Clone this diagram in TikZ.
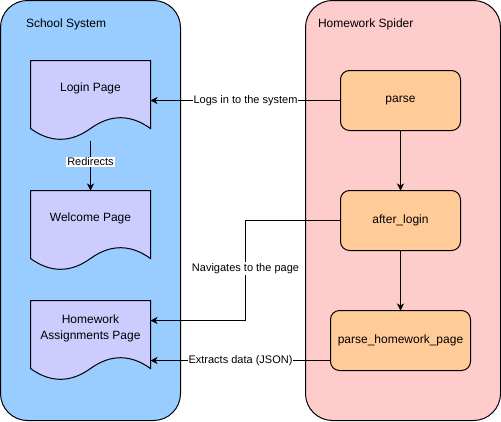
\documentclass[tikz,border=0pt]{standalone}
\usepackage{fontspec}
\setmainfont{Liberation Sans}
\usetikzlibrary{arrows.meta,calc}
\definecolor{sysblue}{HTML}{99CCFF}
\definecolor{spiderpink}{HTML}{FFCCCC}
\definecolor{docpurple}{HTML}{CCCCFF}
\definecolor{procorange}{HTML}{FFCC99}
\newcommand\mydocshape[1]{%
  \begin{scope}[shift={(#1.north west)}]
    \filldraw[draw=black, fill=docpurple] (0,0) -- (120,0) -- (120,68)
      .. controls (100,53.6) and (80,53.6) .. (60,68)
      .. controls (40,82.4) and (20,82.4) .. (0,68) -- cycle;
  \end{scope}}
\begin{document}
\begin{tikzpicture}[x=1pt,y=-1pt,line width=1pt,
  container/.style={draw=black, rounded corners=27pt, minimum height=420pt, inner sep=0pt, outer sep=0pt},
  ctitle/.style={anchor=west, inner sep=0pt, font=\fontsize{12}{14}\selectfont},
  docbox/.style={draw=none, minimum width=120pt, minimum height=80pt, inner sep=0pt, outer sep=0pt},
  doctext/.style={inner sep=0pt, align=center, font=\fontsize{12}{15.5}\selectfont},
  proc/.style={draw=black, fill=procorange, rounded corners=9pt, minimum height=60pt, inner sep=0pt, outer sep=0pt, font=\fontsize{12}{14}\selectfont},
  arr/.style={-{Stealth[length=7pt,width=7pt,inset=2pt]}},
  lbl/.style={fill=white, inner sep=1pt, font=\fontsize{11}{13}\selectfont}]
\useasboundingbox (0,0) rectangle (501,421);
% containers
\node[container, fill=sysblue, minimum width=180pt] (school) at (90.5,210.5) {};
\node[container, fill=spiderpink, minimum width=195pt] (spider) at (403,210.5) {};
\node[ctitle] (schooltitle) at (25.5,24.5) {School System};
\node[ctitle] (spidertitle) at (317.5,24.5) {Homework Spider};
% document pages
\node[docbox] (login) at (90.5,100.5) {};
\node[docbox] (welcome) at (90.5,230.5) {};
\node[docbox] (hw) at (90.5,340.5) {};
\mydocshape{login}
\mydocshape{welcome}
\mydocshape{hw}
\node[doctext] (logintxt) at ([yshift=-28pt]login.north) {Login Page};
\node[doctext] (welcometxt) at ([yshift=-28pt]welcome.north) {Welcome Page};
\node[doctext] (hwtxt) at ([yshift=-28pt]hw.north) {Homework\\Assignments Page};
% spider functions
\node[proc, minimum width=120pt] (parse) at (400.5,100.5) {parse};
\node[proc, minimum width=120pt] (afterlogin) at (400.5,220.5) {after\_login};
\node[proc, minimum width=140pt] (phw) at (400.5,340.5) {parse\_homework\_page};
% connectors
\coordinate (hwin1) at ([yshift=20pt]hw.east);
\coordinate (hwin2) at ([yshift=-20pt]hw.east);
\coordinate (navmid) at ($(hwin1)!.5!(afterlogin.west)$);
\draw[arr] (parse.west) -- node[lbl] (lbllogs) {Logs in to the system} (login.east);
\draw[arr] (login.south) -- node[lbl, pos=0.43] (lblredir) {Redirects} (welcome.north);
\draw[arr] (parse.south) -- (afterlogin.north);
\draw[arr] (afterlogin.south) -- (phw.north);
\draw[arr] (afterlogin.west) -| (navmid) |- (hwin1);
\node[lbl] (lblnav) at ([yshift=2pt]navmid) {Navigates to the page};
\draw[arr] (phw.west |- hwin2) -- node[lbl] (lblext) {Extracts data (JSON)} (hwin2);
\end{tikzpicture}
\end{document}
